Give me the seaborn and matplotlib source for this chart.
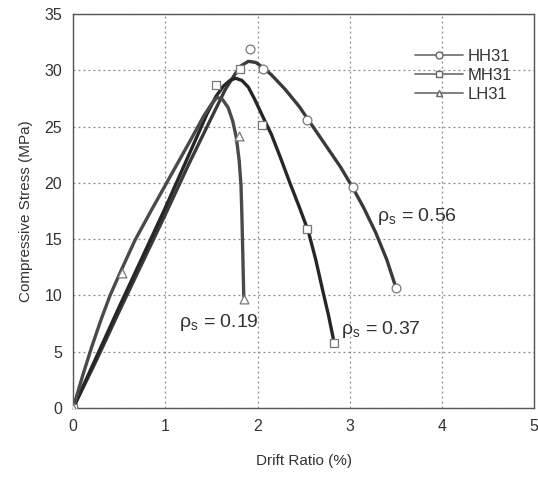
import matplotlib
matplotlib.use("Agg")
import matplotlib.pyplot as plt
import seaborn as sns
import pandas as pd
from matplotlib.lines import Line2D

sns.set_theme(style="white")
plt.rcParams['font.family'] = ['Liberation Sans', 'DejaVu Sans']
plt.rcParams['mathtext.fontset'] = 'custom'
plt.rcParams['mathtext.rm'] = 'Liberation Sans'
plt.rcParams['mathtext.it'] = 'Liberation Sans'
plt.rcParams['mathtext.default'] = 'regular'

# Curve traces
hh_curve_x = [0.0, 0.25, 0.5, 0.75, 1.0, 1.25, 1.5, 1.65, 1.75, 1.82, 1.9, 1.98, 2.05, 2.15,
              2.3, 2.45, 2.6, 2.75, 2.9, 3.03, 3.15, 3.28, 3.4, 3.5]
hh_curve_y = [0.0, 4.2, 8.6, 12.9, 17.2, 21.6, 25.8, 28.3, 29.6, 30.4, 30.8, 30.7, 30.3, 29.6,
              28.3, 26.8, 25.0, 23.2, 21.4, 19.6, 17.8, 15.6, 13.2, 10.7]
mh_curve_x = [0.0, 0.25, 0.5, 0.75, 1.0, 1.25, 1.45, 1.55, 1.63, 1.7, 1.76, 1.83, 1.9, 1.97,
              2.05, 2.15, 2.25, 2.35, 2.45, 2.55, 2.63, 2.71, 2.77, 2.82]
mh_curve_y = [0.0, 4.5, 9.0, 13.4, 17.8, 22.4, 26.1, 27.7, 28.6, 29.1, 29.3, 29.1, 28.5, 27.4,
              26.0, 24.3, 22.2, 20.0, 17.9, 15.7, 13.2, 10.3, 8.2, 6.2]
lh_curve_x = [0.0, 0.1, 0.2, 0.3, 0.4, 0.53, 0.67, 0.85, 1.0, 1.15, 1.3, 1.42, 1.5, 1.56,
              1.62, 1.68, 1.73, 1.77, 1.8, 1.82, 1.83, 1.84, 1.85]
lh_curve_y = [0.0, 2.8, 5.4, 7.8, 10.0, 12.4, 14.9, 17.6, 19.8, 22.0, 24.2, 26.0, 27.0, 27.6,
              27.4, 26.7, 25.5, 24.0, 22.0, 19.8, 17.0, 13.5, 9.9]

# Test points (markers)
hh_pts_x = [0.0, 1.92, 2.06, 2.54, 3.03, 3.5]
hh_pts_y = [0.0, 31.9, 30.1, 25.6, 19.6, 10.7]
mh_pts_x = [0.0, 1.55, 1.81, 2.05, 2.54, 2.83]
mh_pts_y = [0.0, 28.7, 30.1, 25.1, 15.9, 5.8]
lh_pts_x = [0.0, 0.53, 1.80, 1.85]
lh_pts_y = [0.0, 12.0, 24.2, 9.7]

series = ["HH31", "MH31", "LH31"]
markers = {"HH31": "o", "MH31": "s", "LH31": "^"}

curves = pd.concat([
    pd.DataFrame({"x": hh_curve_x, "y": hh_curve_y, "s": "HH31"}),
    pd.DataFrame({"x": mh_curve_x, "y": mh_curve_y, "s": "MH31"}),
    pd.DataFrame({"x": lh_curve_x, "y": lh_curve_y, "s": "LH31"}),
])
pts = pd.concat([
    pd.DataFrame({"x": hh_pts_x, "y": hh_pts_y, "s": "HH31"}),
    pd.DataFrame({"x": mh_pts_x, "y": mh_pts_y, "s": "MH31"}),
    pd.DataFrame({"x": lh_pts_x, "y": lh_pts_y, "s": "LH31"}),
])

fig = plt.figure(figsize=(5.38, 4.84), dpi=100)
ax = fig.add_axes([0.136, 0.157, 0.857, 0.814])

line_colors = {"HH31": "#3a3a3a", "MH31": "#262626", "LH31": "#4a4a4a"}
for s in series:
    d = curves[curves.s == s]
    sns.lineplot(data=d, x="x", y="y", sort=False, ax=ax, color=line_colors[s],
                 lw=2.4, legend=False, estimator=None)
    p = pts[pts.s == s]
    sns.scatterplot(data=p, x="x", y="y", marker=markers[s], ax=ax, s=40,
                    facecolor="white", edgecolor="#777777", linewidth=0.9,
                    legend=False, zorder=3)

ax.set_xlim(0, 5)
ax.set_ylim(0, 35)
ax.set_xticks(range(0, 6))
ax.set_yticks(range(0, 36, 5))
ax.grid(True, linestyle=(0, (1.5, 2.5)), color="#888888", linewidth=0.9)
for sp in ax.spines.values():
    sp.set_color("#555555")
    sp.set_linewidth(1.0)
ax.tick_params(axis="both", labelsize=11.5, colors="#333333", length=0, pad=8)
ax.set_xlabel("Drift Ratio (%)", fontsize=11, color="#333333", labelpad=14)
ax.set_ylabel("Compressive Stress (MPa)", fontsize=11, color="#333333", labelpad=8)

# Legend
handles = [Line2D([0], [0], color="#777777", lw=1.3, marker=markers[s], markersize=5,
                  markerfacecolor="white", markeredgecolor="#666666") for s in series]
ax.legend(handles, series, loc="upper right", bbox_to_anchor=(0.985, 0.95),
          frameon=False, fontsize=12, handlelength=2.9, handletextpad=0.3,
          labelspacing=0.25, labelcolor="#333333")

ax.text(3.3, 16.6, r"$\rho_s$ = 0.56", fontsize=14, color="#333333")
ax.text(1.15, 7.2, r"$\rho_s$ = 0.19", fontsize=14, color="#333333")
ax.text(2.9, 6.6, r"$\rho_s$ = 0.37", fontsize=14, color="#333333")

fig.savefig("out.png", dpi=100)
